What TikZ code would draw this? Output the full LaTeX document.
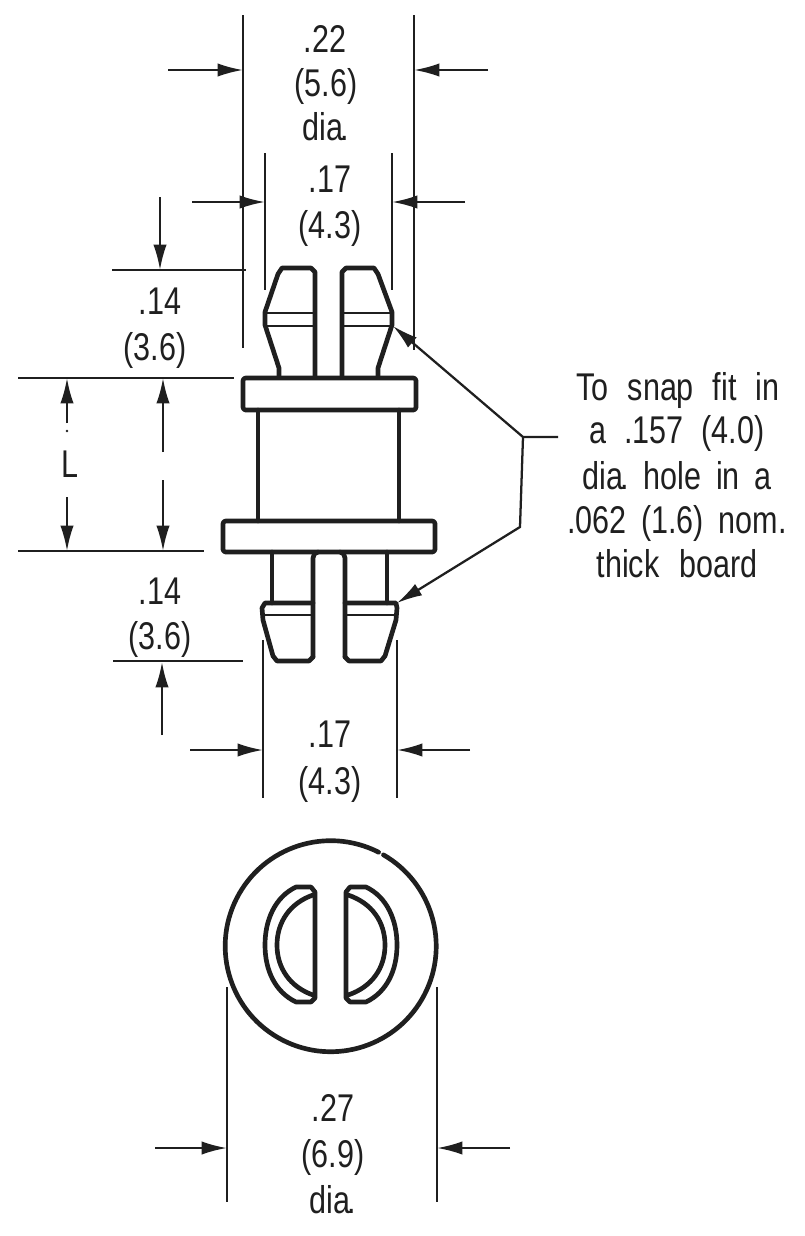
\documentclass[tikz,border=0pt]{standalone}
\usepackage{fontspec}
\setmainfont{Liberation Sans}
\usetikzlibrary{arrows.meta}
\newcommand{\narrow}[1]{\scalebox{.79}[1]{#1}}
\newcommand{\gp}[1]{\hspace{#1pt}}
\newcommand{\diatxt}{dia\kern-2.5pt.}
\tikzset{
  obj/.style={line width=3.5pt,line join=round,line cap=round,color=black!88},
  thin obj/.style={line width=1.9pt,color=black!88},
  dim/.style={line width=1.7pt,color=black!88},
  arr/.style={dim,-{Latex[length=19pt,width=10pt]}},
  lab/.style={inner sep=0pt,anchor=base,font=\fontsize{29}{29}\selectfont,color=black!88}
}
\begin{document}
\begin{tikzpicture}[x=0.75pt,y=-0.75pt]
\useasboundingbox (0,0) rectangle (804,1236);
% --- upper clip
\draw[obj] (279,376) -- (279,368) -- (265,325) -- (265,312) -- (278,274) -- (282,268) -- (311,268) -- (315,272) -- (315,377);
\draw[obj] (342,377) -- (342,272) -- (346,268) -- (374,268) -- (378,274) -- (392,312) -- (392,325) -- (378,368) -- (378,376);
\draw[thin obj] (267,313) -- (315,313) (267,326) -- (315,326);
\draw[thin obj] (342,313) -- (391,313) (342,326) -- (391,326);
% --- flanges and body
\draw[obj,rounded corners=2pt] (243,378) rectangle (416,410);
\draw[obj] (258,410) -- (258,521) (399,410) -- (399,521);
\draw[obj,rounded corners=2pt] (223,521) rectangle (435,552);
% --- lower clip
\draw[obj] (272,552) -- (272,603);
\draw[obj] (387,552) -- (387,603);
\draw[obj] (313,657) -- (313,558) to[out=90,in=180] (318,552);
\draw[obj] (345,657) -- (345,558) to[out=90,in=0] (340,552);
\draw[obj] (313,657) -- (309,661) -- (277,661) -- (273,656) -- (263,620) -- (262,608) -- (265,603) -- (313,603);
\draw[obj] (345,657) -- (349,661) -- (381,661) -- (385,656) -- (396,620) -- (397,608) -- (396,603) -- (345,603);
\draw[thin obj] (265,615) -- (313,615) (345,615) -- (396,615);
% --- end view
\draw[obj] (378.6,852.2) arc[start angle=-63,end angle=-420,radius=105.5];
\draw[obj] (315,892) -- (315,998) -- (311,1002) -- (296,1002) .. controls (275,992) and (265,970) .. (265,945) .. controls (265,920) and (275,897) .. (296,887) -- (311,887) -- cycle;
\draw[obj] (313,895) .. controls (290,903) and (277,922) .. (277,945) .. controls (277,968) and (290,987) .. (313,995);
\draw[obj] (346,892) -- (346,998) -- (350,1002) -- (366,1002) .. controls (387,992) and (397,970) .. (397,945) .. controls (397,920) and (387,897) .. (366,887) -- (350,887) -- cycle;
\draw[obj] (348,895) .. controls (372,903) and (385,922) .. (385,945) .. controls (385,968) and (372,987) .. (348,995);
% --- extension lines
\draw[dim] (243,15) -- (243,348) (414,15) -- (414,350);
\draw[dim] (265,153) -- (265,290) (392,153) -- (392,290);
\draw[dim] (112,270) -- (246,270);
\draw[dim] (18,378) -- (234,378);
\draw[dim] (18,551) -- (204,551);
\draw[dim] (113,661) -- (243,661);
\draw[dim] (263,640) -- (263,798) (397,640) -- (397,798);
\draw[dim] (227,987) -- (227,1202) (437,987) -- (437,1202);
% --- dimension arrows
\coordinate (a1) at (168,70);  \coordinate (a2) at (243,70);
\coordinate (a3) at (488,70);  \coordinate (a4) at (414,70);
\coordinate (b1) at (192,202); \coordinate (b2) at (265,202);
\coordinate (b3) at (465,202); \coordinate (b4) at (392,202);
\coordinate (c1) at (160,197); \coordinate (c2) at (160,270);
\coordinate (d1) at (163,452); \coordinate (d2) at (163,378);
\coordinate (d3) at (163,480); \coordinate (d4) at (163,551);
\coordinate (e1) at (162,735); \coordinate (e2) at (162,662);
\coordinate (f1) at (190,750); \coordinate (f2) at (263,750);
\coordinate (f3) at (470,750); \coordinate (f4) at (397,750);
\coordinate (g1) at (155,1148); \coordinate (g2) at (227,1148);
\coordinate (g3) at (510,1148); \coordinate (g4) at (437,1148);
\draw[arr] (a1) -- (a2); \draw[arr] (a3) -- (a4);
\draw[arr] (b1) -- (b2); \draw[arr] (b3) -- (b4);
\draw[arr] (c1) -- (c2);
\draw[arr] (d1) -- (d2); \draw[arr] (d3) -- (d4);
\draw[arr] (e1) -- (e2);
\draw[arr] (f1) -- (f2); \draw[arr] (f3) -- (f4);
\draw[arr] (g1) -- (g2); \draw[arr] (g3) -- (g4);
% --- L dimension
\node[lab] (L) at (70,477) {\narrow{L}};
\coordinate (l1) at (67,423); \coordinate (l2) at (67,378);
\coordinate (l3) at (67,497); \coordinate (l4) at (67,551);
\draw[arr] (l1) -- (l2);
\draw[arr] (l3) -- (l4);
\fill[black!88] (67,431) circle (1pt);
% --- leader
\coordinate (n) at (558,437);
\coordinate (j1) at (523,437);
\coordinate (j2) at (520,527);
\coordinate (t1) at (393,326);
\coordinate (t2) at (397,603);
\draw[arr] (n) -- (j1) -- (t1);
\draw[arr] (j1) -- (j2) -- (t2);
% --- labels
\node[lab] (t22) at (325,52) {\narrow{.22}};
\node[lab] (t56) at (326,96) {\narrow{(5.6)}};
\node[lab] (tdia) at (326,140) {\narrow{\diatxt}};
\node[lab] (t17) at (330,192) {\narrow{.17}};
\node[lab] (t43) at (330,238) {\narrow{(4.3)}};
\node[lab] (t14) at (160,314) {\narrow{.14}};
\node[lab] (t36) at (155,360) {\narrow{(3.6)}};
\node[lab] (b14) at (160,604) {\narrow{.14}};
\node[lab] (b36) at (160,649) {\narrow{(3.6)}};
\node[lab] (b17) at (330,747) {\narrow{.17}};
\node[lab] (b43) at (330,794) {\narrow{(4.3)}};
\node[lab] (c27) at (333,1121) {\narrow{.27}};
\node[lab] (c69) at (333,1167) {\narrow{(6.9)}};
\node[lab] (cdia) at (333,1213) {\narrow{\diatxt}};
\node[lab] (n1) at (678,400) {\narrow{To\gp{18}snap\gp{18}fit\gp{18}in}};
\node[lab] (n2) at (677,443) {\narrow{a\gp{17}.157\gp{17}(4.0)}};
\node[lab] (n3) at (677,489) {\narrow{\diatxt\gp{14}hole\gp{14}in\gp{14}a}};
\node[lab] (n4) at (677,533) {\narrow{.062\gp{14}(1.6)\gp{14}nom.}};
\node[lab] (n5) at (677,577) {\narrow{thick\gp{19}board}};
\end{tikzpicture}
\end{document}
